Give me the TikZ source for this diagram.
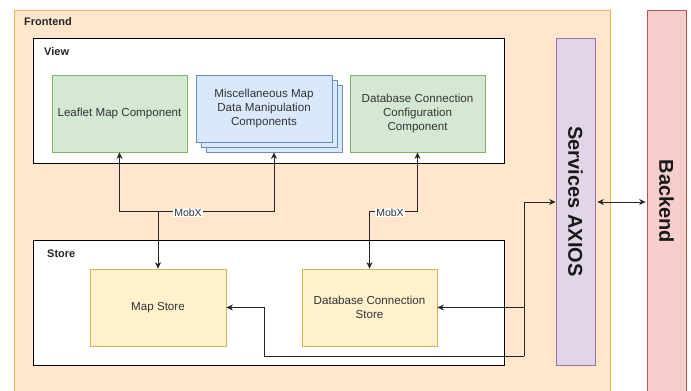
\documentclass[tikz,border=0pt]{standalone}
\usepackage{fontspec}
\setmainfont{Liberation Sans}
\usetikzlibrary{arrows.meta}
\definecolor{feFill}{HTML}{FFE6CC}
\definecolor{feDraw}{HTML}{E6B656}
\definecolor{grFill}{HTML}{D5E8D4}
\definecolor{grDraw}{HTML}{82B366}
\definecolor{blFill}{HTML}{DAE8FC}
\definecolor{blDraw}{HTML}{6C8EBF}
\definecolor{yeFill}{HTML}{FFF2CC}
\definecolor{yeDraw}{HTML}{D6B656}
\definecolor{puFill}{HTML}{E1D5E7}
\definecolor{puDraw}{HTML}{9673A6}
\definecolor{reFill}{HTML}{F8CECC}
\definecolor{reDraw}{HTML}{B85450}
\definecolor{txt}{HTML}{333333}
\tikzset{
  base/.style={rectangle, line width=0.8pt, inner sep=0pt, align=center, text=txt,
    font=\fontsize{11.6}{13.8}\selectfont},
  greenbox/.style={base, fill=grFill, draw=grDraw},
  bluebox/.style={base, fill=blFill, draw=blDraw},
  yellowbox/.style={base, fill=yeFill, draw=yeDraw},
  container/.style={rectangle, line width=0.8pt, inner sep=0pt},
  grouplbl/.style={anchor=west, inner sep=0pt, font=\fontsize{11}{13}\selectfont\bfseries, text=black!85},
  mobx/.style={fill=white, inner sep=1pt, text=txt, font=\fontsize{10.5}{12}\selectfont},
  conn/.style={line width=0.8pt, draw=black!85},
  tip/.tip={Stealth[length=6.5pt,width=6pt]},
  biglbl/.style={font=\fontsize{20}{24}\selectfont\bfseries, text=black!90, rotate=-90}
}
\begin{document}
\begin{tikzpicture}[x=1pt,y=-1pt]
\useasboundingbox (0,0) rectangle (691,391);
\clip (0,0) rectangle (691,391);
% Frontend container
\node[container, fill=feFill, draw=feDraw, minimum width=596pt, minimum height=392pt] (frontend) at (312,206) {};
\node[grouplbl] (felbl) at (24,22) {Frontend};
% Backend
\node[container, fill=reFill, draw=reDraw, minimum width=39pt, minimum height=383pt] (backend) at (666.5,201.5) {};
\node[biglbl] (belbl) at (backend.center) {Backend};
% Services
\node[container, fill=puFill, draw=puDraw, minimum width=39pt, minimum height=327pt] (services) at (575.5,201.5) {};
\node[biglbl] (svlbl) at (services.center) {Services AXIOS};
% View container
\node[container, fill=white, draw=black, minimum width=471pt, minimum height=125pt] (view) at (268.5,100.5) {};
\node[grouplbl] (viewlbl) at (44,52) {View};
% Store container
\node[container, fill=white, draw=black, minimum width=471pt, minimum height=125pt] (store) at (268.5,302.5) {};
\node[grouplbl] (storelbl) at (47,254) {Store};
% View components
\node[greenbox, minimum width=135pt, minimum height=77pt] (leaflet) at (119.5,113.5) {Leaflet Map Component};
\node[bluebox, minimum width=136pt, minimum height=67pt] (misc3) at (274,118.5) {};
\node[bluebox, minimum width=136pt, minimum height=67pt] (misc2) at (269,113.5) {};
\node[bluebox, minimum width=136pt, minimum height=67pt] (misc) at (264,108.5) {Miscellaneous Map\\Data Manipulation\\Components};
\node[greenbox, minimum width=135pt, minimum height=77pt] (dbconf) at (417.5,113.5) {Database Connection\\Configuration\\Component};
% Store components
\node[yellowbox, minimum width=136pt, minimum height=77pt] (mapstore) at (158,307.5) {Map Store};
\node[yellowbox, minimum width=135pt, minimum height=77pt] (dbstore) at (369.5,307.5) {Database Connection\\Store};
% MobX connectors
\coordinate (j1) at (158,211);
\coordinate (j2) at (369.5,211);
\draw[conn, -tip] (j1) -| (leaflet.south);
\draw[conn, -tip] (j1) -| (misc3.south);
\draw[conn, -tip] (j1) -- (mapstore.north);
\draw[conn, -tip] (j2) -| (dbconf.south);
\draw[conn, -tip] (j2) -- (dbstore.north);
\node[mobx] (mobx1) at (188,212.5) {MobX};
\node[mobx] (mobx2) at (390,212.5) {MobX};
% Services connectors
\coordinate (k1) at (524,202);
\coordinate (k2) at (524,356);
\coordinate (k3) at (264,356);
\draw[conn, -tip] (k2) -- (k1) -- (k1 -| services.west);
\draw[conn, -tip] (k2) |- (dbstore.east);
\draw[conn, -tip] (k2) -- (k3) |- (mapstore.east);
\draw[conn, tip-tip] (k1 -| services.east) ++(2,0) -- ([xshift=-1pt]k1 -| backend.west);
\end{tikzpicture}
\end{document}
